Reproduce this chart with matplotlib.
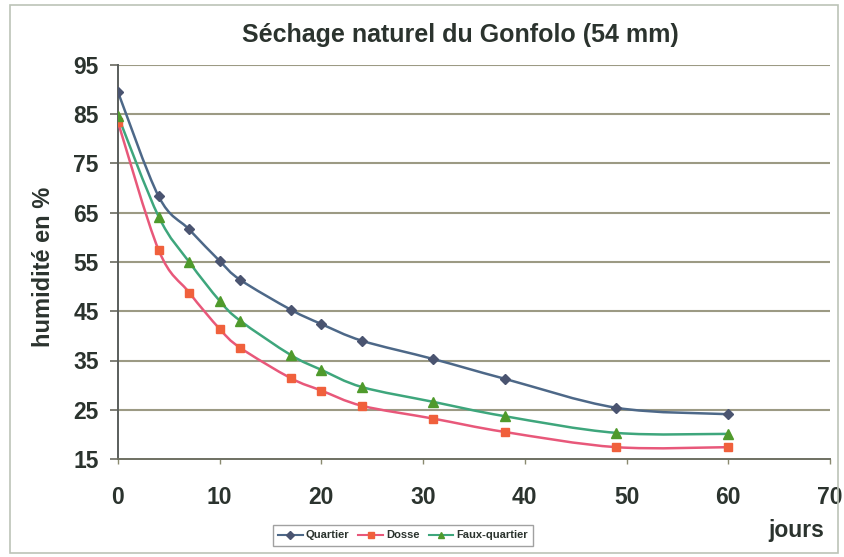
import matplotlib
matplotlib.use('Agg')
import matplotlib.pyplot as plt
import numpy as np
from matplotlib.path import Path
from matplotlib.patches import PathPatch, Rectangle
from matplotlib.lines import Line2D

plt.rcParams['font.family'] = ['Liberation Sans', 'DejaVu Sans']

# ── data ─────────────────────────────────────────────────────────────────────
jours = [0, 4, 7, 10, 12, 17, 20, 24, 31, 38, 49, 60]
quartier = [89.5, 68.3, 61.6, 55.2, 51.4, 45.3, 42.4, 39.0, 35.3, 31.3, 25.4, 24.1]
dosse = [83.4, 57.4, 48.8, 41.4, 37.6, 31.4, 28.9, 25.8, 23.2, 20.5, 17.4, 17.4]
faux_quartier = [84.7, 64.2, 55.0, 47.1, 43.1, 36.1, 33.1, 29.6, 26.6, 23.7, 20.3, 20.1]

series = [
    ('Quartier', quartier, '#4d6888', '#4a5470', 'D', 5.5),
    ('Dosse', dosse, '#e8587a', '#f0603c', 's', 6.0),
    ('Faux-quartier', faux_quartier, '#3ea67c', '#4f9a2c', '^', 6.5),
]

x_ticks = [0, 10, 20, 30, 40, 50, 60, 70]
y_ticks = [15, 25, 35, 45, 55, 65, 75, 85, 95]

TXT = '#2b332e'


def smooth_path(xs, ys):
    """Catmull-Rom curve through the points, as cubic Bezier segments."""
    pts = np.column_stack([xs, ys]).astype(float)
    verts = [pts[0]]
    codes = [Path.MOVETO]
    n = len(pts)
    for i in range(n - 1):
        p0 = pts[max(i - 1, 0)]
        p1 = pts[i]
        p2 = pts[i + 1]
        p3 = pts[min(i + 2, n - 1)]
        c1 = p1 + (p2 - p0) / 6.0
        c2 = p2 - (p3 - p1) / 6.0
        verts += [c1, c2, p2]
        codes += [Path.CURVE4] * 3
    return Path(verts, codes)


fig = plt.figure(figsize=(8.45, 5.57), dpi=100)
ax = fig.add_axes([118 / 845, 1 - 459 / 557, 712 / 845, 394 / 557])

# outer chart frame
fig.patches.append(Rectangle((10 / 845, 4 / 557), 828 / 845, 548 / 557,
                             transform=fig.transFigure, fill=False,
                             edgecolor='#bcc4b8', lw=1.2))

for y in y_ticks[1:]:
    ax.axhline(y, color='#9c9a84', lw=1.5, zorder=1)

for name, vals, lc, mc, mk, ms in series:
    ax.add_patch(PathPatch(smooth_path(jours, vals), fill=False,
                           edgecolor=lc, lw=1.8, zorder=3))
    ax.plot(jours, vals, linestyle='none', marker=mk, ms=ms,
            color=mc, mec=mc, zorder=4)

ax.set_xlim(0, 70)
ax.set_ylim(15, 95)
ax.set_xticks(x_ticks)
ax.set_yticks(y_ticks)

for s in ['top', 'right']:
    ax.spines[s].set_visible(False)
ax.spines['left'].set_color('#5a5e5c')
ax.spines['bottom'].set_color('#6e7062')
ax.spines['left'].set_linewidth(1.4)
ax.spines['bottom'].set_linewidth(1.4)
ax.tick_params(axis='y', direction='out', length=5.8, width=1.2, colors='#6a6a60',
               labelsize=16.5, labelcolor=TXT, pad=8)
ax.tick_params(axis='x', direction='out', length=3.6, width=1.0, colors='#8a8a70',
               labelsize=16.5, labelcolor=TXT, pad=16)
for lab in ax.get_xticklabels() + ax.get_yticklabels():
    lab.set_fontweight('bold')

fig.text(460 / 845, 1 - 35 / 557, 'Séchage naturel du Gonfolo (54 mm)',
         ha='center', va='center', fontsize=18, fontweight='bold', color=TXT)
fig.text(44 / 845, 1 - 267 / 557, 'humidité en %', rotation=90,
         ha='center', va='center', fontsize=17, fontweight='bold', color=TXT)
fig.text(796 / 845, 1 - 530 / 557, 'jours', ha='center', va='center',
         fontsize=16.5, fontweight='bold', color=TXT)

handles = [Line2D([0], [0], color=lc, lw=1.5, marker=mk, ms=ms * 0.7,
                  mfc=mc, mec=mc)
           for name, vals, lc, mc, mk, ms in series]
leg = fig.legend(handles, [s[0] for s in series], loc='center',
                 bbox_to_anchor=(403 / 845, 1 - 535.5 / 557), ncol=3,
                 prop={'size': 8, 'weight': 'bold'}, frameon=True,
                 fancybox=False, handlelength=2.2, handletextpad=0.3,
                 columnspacing=0.8, borderpad=0.5)
leg.get_frame().set_edgecolor('#8a8a8a')
leg.get_frame().set_linewidth(1.0)
for t in leg.get_texts():
    t.set_color(TXT)

fig.savefig('out.png', dpi=100)
